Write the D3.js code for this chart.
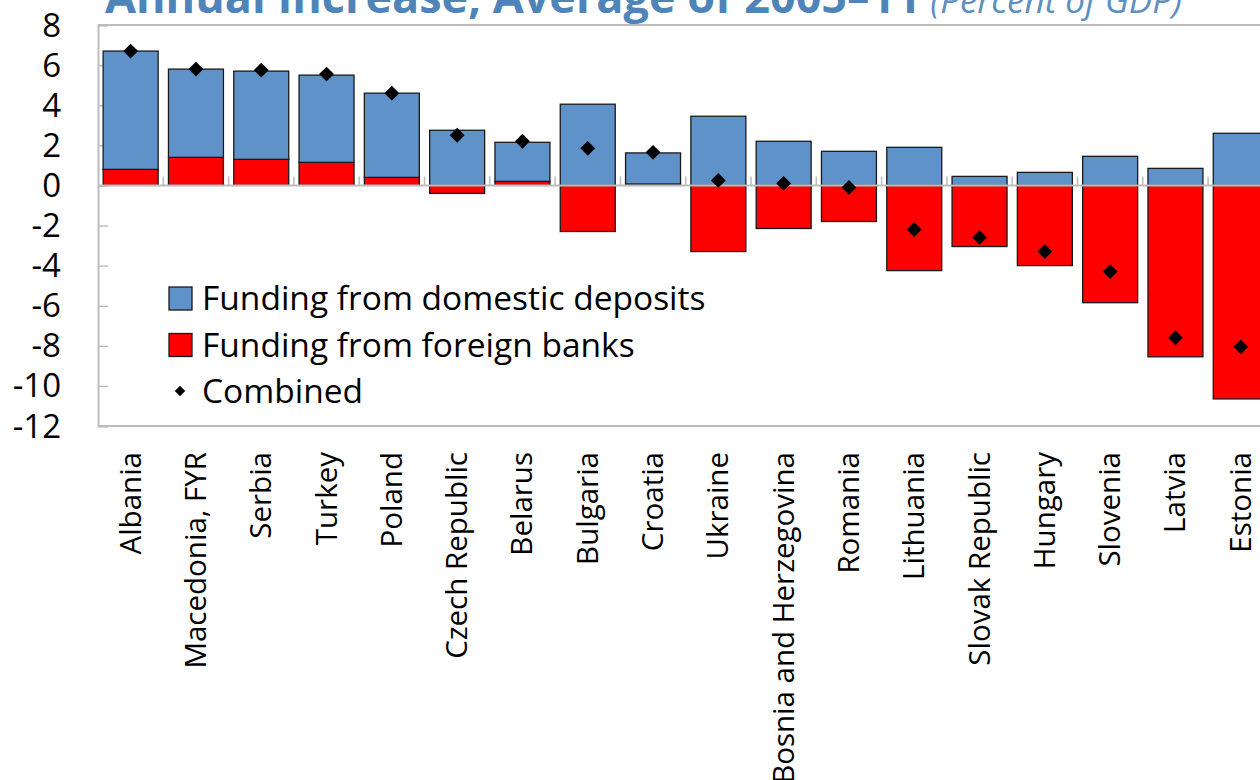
<!DOCTYPE html>
<html>
<head>
<meta charset="utf-8">
<script src="https://cdn.jsdelivr.net/npm/d3@7"></script>
<style>
  body { margin: 0; background: #fff; }
  svg { display: block; font-family: "Open Sans", "Noto Sans", sans-serif; }
</style>
</head>
<body>
<svg id="chart" width="1260" height="780"></svg>
<script>
// data (percent of GDP)
const countries = ["Albania", "Macedonia, FYR", "Serbia", "Turkey", "Poland", "Czech Republic",
  "Belarus", "Bulgaria", "Croatia", "Ukraine", "Bosnia and Herzegovina", "Romania",
  "Lithuania", "Slovak Republic", "Hungary", "Slovenia", "Latvia", "Estonia"];
const domestic = [5.9, 4.4, 4.4, 4.35, 4.2, 2.75, 1.95, 4.05, 1.55, 3.45, 2.2, 1.7, 1.9, 0.45, 0.65, 1.45, 0.85, 2.6];
const foreign  = [0.8, 1.4, 1.3, 1.15, 0.4, -0.4, 0.2, -2.3, 0.07, -3.3, -2.15, -1.8, -4.25, -3.05, -4.0, -5.85, -8.55, -10.65];
const combined = [6.7, 5.8, 5.75, 5.55, 4.6, 2.5, 2.2, 1.85, 1.65, 0.25, 0.1, -0.1, -2.2, -2.6, -3.3, -4.3, -7.6, -8.05];
const yTicks = [8, 6, 4, 2, 0, -2, -4, -6, -8, -10, -12];
const seriesNames = ["Funding from domestic deposits", "Funding from foreign banks", "Combined"];

const blue = "#5f92c8", red = "#ff0000", grid = "#bdbdbd";
const svg = d3.select("#chart");

const plotLeft = 98, plotTop = 25, plotBottom = 426, step = 65.3;
const x = d3.scaleBand().domain(countries)
  .range([plotLeft, plotLeft + step * countries.length])
  .paddingInner(0.158).paddingOuter(0.079);
const y = d3.scaleLinear().domain([-12, 8]).range([plotBottom, plotTop]);

// title (cut off at the top like the original)
const title = svg.append("text").attr("x", 105).attr("y", 13);
title.append("tspan").text("Annual Increase, Average of 2005–11")
  .attr("font-size", 45).attr("font-weight", 700).attr("fill", "#4f84b8");
title.append("tspan").text(" (Percent of GDP)")
  .attr("font-size", 35).attr("font-style", "italic").attr("fill", "#5d8fc0");

// frame
const xEnd = 1300;
svg.append("line").attr("x1", plotLeft).attr("x2", xEnd).attr("y1", plotTop).attr("y2", plotTop)
  .attr("stroke", grid).attr("stroke-width", 2);
svg.append("line").attr("x1", plotLeft).attr("x2", xEnd).attr("y1", plotBottom).attr("y2", plotBottom)
  .attr("stroke", grid).attr("stroke-width", 2);

// y axis
const yAxis = svg.append("g").attr("transform", `translate(${plotLeft},0)`)
  .call(d3.axisRight(y).tickValues(yTicks).tickSize(10).tickFormat(""));
yAxis.select(".domain").attr("stroke", grid).attr("stroke-width", 2);
yAxis.selectAll(".tick line").attr("stroke", grid).attr("stroke-width", 1.5);
svg.append("g").selectAll("text").data(yTicks).join("text")
  .attr("x", 61).attr("y", d => y(d)).attr("dy", "0.35em")
  .attr("text-anchor", "end").attr("font-size", 33).attr("fill", "#000")
  .text(d => d);

// stacked bars
const rows = countries.map((c, i) => ({ country: c, foreign: foreign[i], domestic: domestic[i] }));
const stack = d3.stack().keys(["foreign", "domestic"]).offset(d3.stackOffsetDiverging);
const layers = stack(rows);
const colors = { foreign: red, domestic: blue };

svg.append("g").selectAll("g").data(layers).join("g")
  .attr("fill", d => colors[d.key])
  .selectAll("rect").data(d => d).join("rect")
  .attr("x", d => x(d.data.country))
  .attr("width", x.bandwidth())
  .attr("y", d => y(Math.max(d[0], d[1])))
  .attr("height", d => Math.abs(y(d[0]) - y(d[1])))
  .attr("stroke", "#1a1a1a").attr("stroke-width", 1.3);

// zero line with category ticks
svg.append("line").attr("x1", plotLeft).attr("x2", xEnd).attr("y1", y(0)).attr("y2", y(0))
  .attr("stroke", grid).attr("stroke-width", 2);
svg.append("g").selectAll("line").data(countries.slice(1)).join("line")
  .attr("x1", d => x(d) - x.step() * x.paddingInner() / 2)
  .attr("x2", d => x(d) - x.step() * x.paddingInner() / 2)
  .attr("y1", y(0) - 9).attr("y2", y(0))
  .attr("stroke", grid).attr("stroke-width", 1.5);

// combined markers
const diamond = d3.symbol().type(d3.symbolSquare).size(110);
svg.append("g").selectAll("path").data(combined).join("path")
  .attr("d", diamond)
  .attr("transform", (d, i) => `translate(${x(countries[i]) + x.bandwidth() / 2},${y(d)}) rotate(45)`)
  .attr("fill", "#000");

// category labels
svg.append("g").selectAll("text").data(countries).join("text")
  .attr("transform", d => `translate(${x(d) + x.bandwidth() / 2 + 10},452) rotate(-90)`)
  .attr("text-anchor", "end").attr("font-size", 29.5).attr("fill", "#000")
  .text(d => d);

// legend
const legend = svg.append("g").attr("transform", "translate(169,298)");
const lg = legend.selectAll("g").data(seriesNames).join("g")
  .attr("transform", (d, i) => `translate(0,${i * 46.5})`);
lg.filter((d, i) => i < 2).append("rect")
  .attr("x", 0).attr("y", -11).attr("width", 23).attr("height", 23)
  .attr("fill", (d, i) => i === 0 ? blue : red)
  .attr("stroke", "#1a1a1a").attr("stroke-width", 1.3);
lg.filter((d, i) => i === 2).append("path")
  .attr("d", d3.symbol().type(d3.symbolSquare).size(55))
  .attr("transform", "translate(11,0) rotate(45)").attr("fill", "#000");
lg.append("text").attr("x", 33).attr("dy", "0.36em")
  .attr("font-size", 33.5).attr("fill", "#000").text(d => d);
</script>
</body>
</html>
